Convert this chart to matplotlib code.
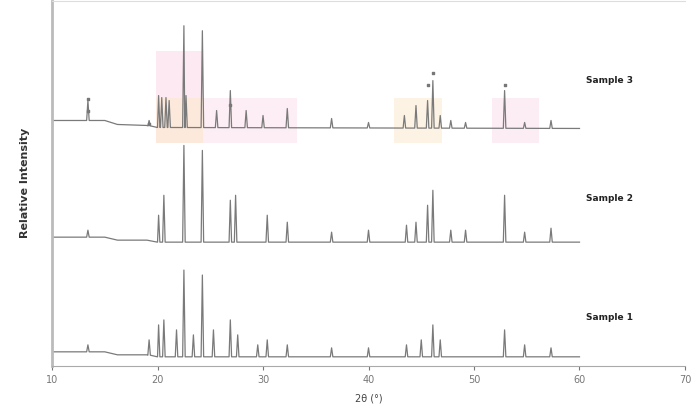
import numpy as np
import matplotlib
matplotlib.use("Agg")
from matplotlib import pyplot as plt

# peak positions (2theta) and peak tops (arbitrary stacked intensity)
top_pos = [13.4, 19.2, 20.1, 20.4, 20.8, 21.1, 22.5, 22.7, 24.25, 25.6, 26.9, 28.4,
           30.0, 32.3, 36.5, 40.0, 43.4, 44.5, 45.6, 46.1, 46.8, 47.8, 49.2, 52.9,
           54.8, 57.3]
top_int = [266, 246, 271, 269, 269, 266, 341, 271, 336, 256, 276, 256,
           251, 258, 248, 244, 251, 261, 266, 286, 251, 246, 244, 276,
           244, 246]
top_base_x = [10, 15.0, 16.2, 19.0, 20.0, 60.0]
top_base_y = [246, 246, 242, 241, 239, 238]

mid_pos = [13.4, 20.1, 20.6, 22.5, 24.25, 26.9, 27.4, 30.4, 32.3, 36.5, 40.0,
           43.6, 44.5, 45.6, 46.1, 47.8, 49.2, 52.9, 54.8, 57.3]
mid_int = [136, 151, 171, 221, 216, 166, 171, 151, 144, 134, 136,
           141, 144, 161, 176, 136, 136, 171, 134, 138]
mid_base_x = [10, 15.0, 16.2, 19.0, 20.0, 60.0]
mid_base_y = [129, 129, 126, 126, 124, 124]

bot_pos = [13.4, 19.2, 20.1, 20.6, 21.8, 22.5, 23.4, 24.25, 25.3, 26.9, 27.6,
           29.5, 30.4, 32.3, 36.5, 40.0, 43.6, 45.0, 46.1, 46.8, 52.9, 54.8, 57.3]
bot_int = [21, 26, 41, 46, 36, 96, 31, 91, 36, 46, 31,
           21, 26, 21, 18, 18, 21, 26, 41, 26, 36, 21, 18]
bot_base_x = [10, 15.0, 16.2, 19.0, 20.0, 60.0]
bot_base_y = [14, 14, 11, 11, 9, 9]

names = ["Sample 3", "Sample 2", "Sample 1"]
name_y = [286, 168, 48]

# highlighted regions on the top pattern: (x0, x1, y0, y1, colour)
regions = [
    (19.85, 24.35, 223, 316, "#fbdbe8"),
    (19.85, 24.35, 223, 269, "#fde9cf"),
    (24.35, 33.25, 223, 269, "#fbe3ee"),
    (42.45, 47.0, 223, 269, "#fdebd3"),
    (51.7, 56.2, 223, 269, "#fbe0ec"),
]

# symbols above some reflections of the top pattern
mark_x = [13.4, 13.4, 19.2, 26.9, 45.6, 46.1, 52.9]
mark_y = [268, 256, 242, 262, 282, 294, 282]


def pattern(base_x, base_y, pos, inten, w=0.12):
    xs, ys = [], []
    for p, h in zip(pos, inten):
        b = np.interp(p, base_x, base_y)
        xs += [p - w, p, p + w]
        ys += [b, h, b]
    xs = list(base_x) + xs
    ys = list(base_y) + ys
    order = np.argsort(xs, kind="stable")
    return np.array(xs)[order], np.array(ys)[order]


fig = plt.figure(figsize=(6.94, 4.11), dpi=100)
ax = fig.add_axes([0.075, 0.11, 0.912, 0.888])

for x0, x1, y0, y1, c in regions:
    ax.fill_between([x0, x1], y0, y1, color=c, alpha=0.6, lw=0, zorder=0)

for bx, by, p, i in [(top_base_x, top_base_y, top_pos, top_int),
                     (mid_base_x, mid_base_y, mid_pos, mid_int),
                     (bot_base_x, bot_base_y, bot_pos, bot_int)]:
    x, y = pattern(bx, by, p, i)
    ax.plot(x, y, color="#7a7a7a", lw=0.9, zorder=2)

ax.scatter(mark_x, mark_y, marker="s", s=4, color="#777777", zorder=3)

for n, y in zip(names, name_y):
    ax.text(62.8, y, n, fontsize=6.5, fontweight="bold", color="#222222",
            ha="center", va="center")

ax.set_xlim(10, 70)
ax.set_ylim(0, 366)
ax.set_xticks([10, 20, 30, 40, 50, 60, 70])
ax.set_yticks([])
ax.tick_params(axis="x", labelsize=7, colors="#777777", length=3)
ax.set_xlabel("2θ (°)", fontsize=7, color="#444444", labelpad=6)
ax.set_ylabel("Relative Intensity", fontsize=8, fontweight="bold",
              color="#333333", labelpad=16)

ax.spines["left"].set_color("#bbbbbb")
ax.spines["left"].set_linewidth(2)
ax.spines["bottom"].set_color("#aaaaaa")
ax.spines["top"].set_color("#dddddd")
ax.spines["right"].set_visible(False)

fig.savefig("out.png", dpi=100)
